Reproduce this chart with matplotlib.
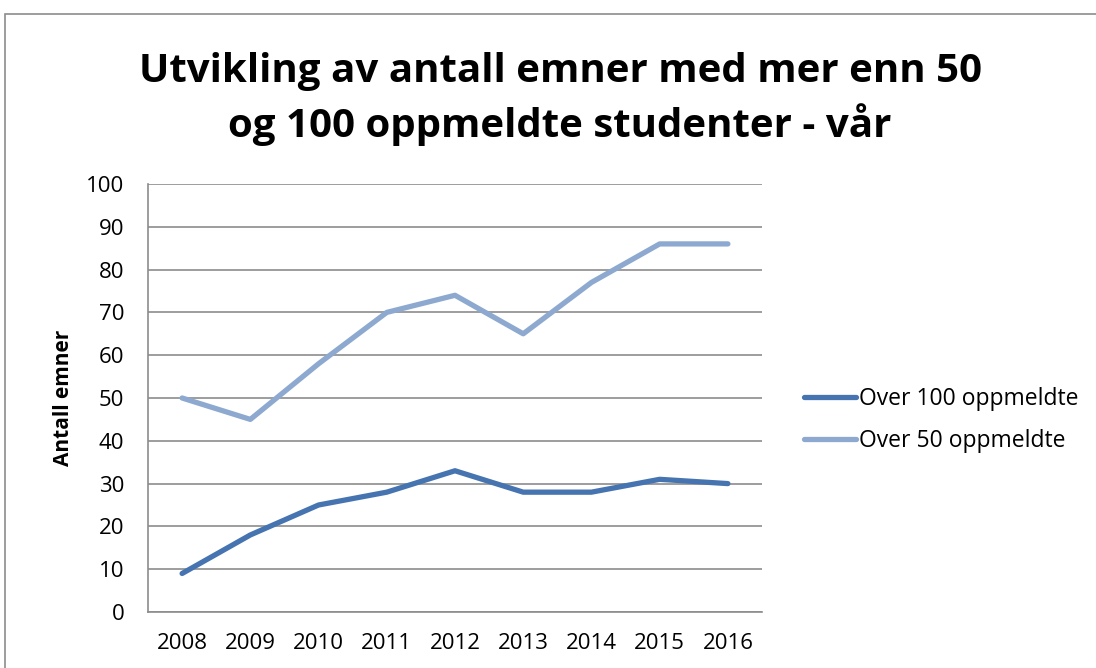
import matplotlib.pyplot as plt
from matplotlib.patches import Rectangle

years = ["2008", "2009", "2010", "2011", "2012", "2013", "2014", "2015", "2016"]
over100 = [9, 18, 25, 28, 33, 28, 28, 31, 30]
over50 = [50, 45, 58, 70, 74, 65, 77, 86, 86]

plt.rcParams['font.family'] = ['Open Sans', 'DejaVu Sans']

fig = plt.figure(figsize=(10.96, 6.68), dpi=100)
W, H = 1096, 668

# chart frame (cut off at right/bottom like the screenshot)
fig.patches.append(Rectangle((5 / W, -0.1), 1.2, 1.1 - 14 / H,
                             transform=fig.transFigure, fill=False,
                             edgecolor='#8c8c8c', linewidth=1.2))

ax = fig.add_axes([148 / W, 1 - 612 / H, (762 - 148) / W, (612 - 184) / H])

x = range(len(years))
ax.plot(x, over100, color='#4674B0', linewidth=3.8, label='Over 100 oppmeldte',
        solid_capstyle='round', solid_joinstyle='round')
ax.plot(x, over50, color='#8EA9CF', linewidth=3.8, label='Over 50 oppmeldte',
        solid_capstyle='round', solid_joinstyle='round')

ax.set_xlim(-0.5, len(years) - 0.5)
ax.set_ylim(0, 100)
ax.set_yticks(range(0, 101, 10))
ax.set_xticks(list(x))
ax.set_xticklabels(years)
ax.yaxis.grid(True, color='#8c8c8c', linewidth=1.2)
ax.set_axisbelow(True)
for s in ['top', 'right']:
    ax.spines[s].set_visible(False)
ax.spines['left'].set_color('#8c8c8c')
ax.spines['bottom'].set_color('#8c8c8c')
ax.spines['left'].set_linewidth(1.2)
ax.spines['bottom'].set_linewidth(1.2)
ax.tick_params(axis='both', length=0, labelsize=16, colors='black')
ax.tick_params(axis='y', pad=17)
ax.tick_params(axis='x', pad=15)

ax.set_ylabel("Antall emner", fontsize=15, fontweight='bold', labelpad=9)

fig.text(0.511, 1 - 99 / H, "Utvikling av antall emner med mer enn 50\nog 100 oppmeldte studenter - vår",
         ha='center', va='center', fontsize=29, fontweight='bold', linespacing=1.38)

fig.legend(loc='center left', bbox_to_anchor=(783 / W, 1 - 420 / H), frameon=False,
           fontsize=16.5, handlelength=2.3, handletextpad=0.1, labelspacing=0.75)

fig.savefig("out.png", dpi=100)
